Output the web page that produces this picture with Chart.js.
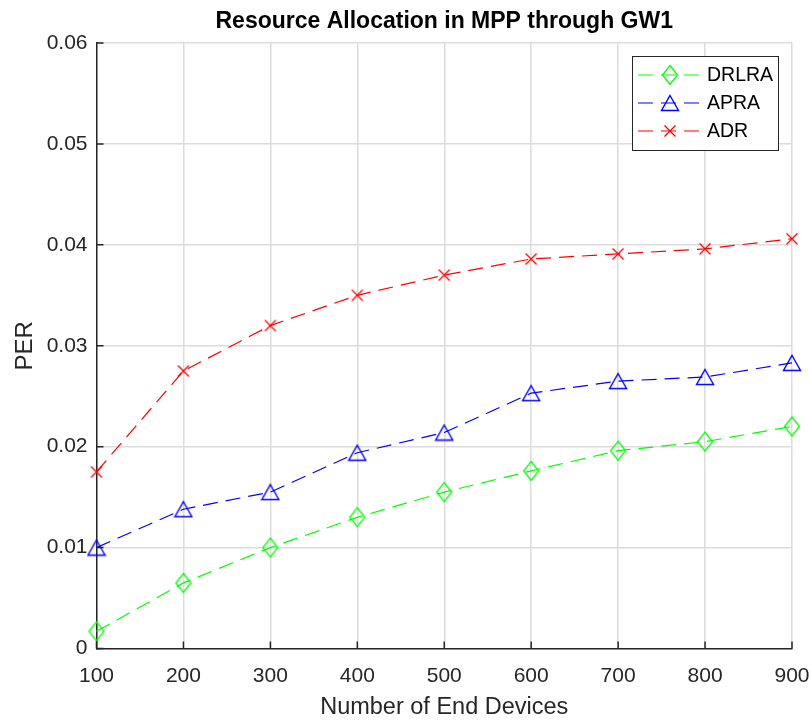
<!DOCTYPE html>
<html><head><meta charset="utf-8">
<script src="https://cdn.jsdelivr.net/npm/chart.js@4"></script>
<style>html,body{margin:0;padding:0;background:#fff}canvas{display:block}</style>
</head><body>
<canvas id="c" width="810" height="725"></canvas>
<script>
const devices = [100,200,300,400,500,600,700,800,900];
const drlra = [0.0017,0.0065,0.0100,0.0130,0.0155,0.0176,0.0196,0.0205,0.0220];
const apra  = [0.0100,0.0138,0.0155,0.0194,0.0214,0.0253,0.0265,0.0269,0.0283];
const adr   = [0.0175,0.0275,0.0320,0.0350,0.0370,0.0386,0.0391,0.0396,0.0406];
const yTickLabels = ['0','0.01','0.02','0.03','0.04','0.05','0.06'];
const seriesNames = ['DRLRA','APRA','ADR'];
const titleText = 'Resource Allocation in MPP through GW1';
const xTitle = 'Number of End Devices';
const yTitle = 'PER';

const FONT = "'Liberation Sans', Arial, Helvetica, sans-serif";
const TXT = '#262626';

function makeMarker(kind, color) {
  const c = document.createElement('canvas');
  const g = c.getContext('2d');
  if (kind === 'diamond') {
    c.width = 18; c.height = 22;
    g.strokeStyle = color; g.lineWidth = 1.3;
    g.beginPath(); g.moveTo(9,1.5); g.lineTo(16.5,11); g.lineTo(9,20.5); g.lineTo(1.5,11); g.closePath(); g.stroke();
  } else if (kind === 'triangle') {
    c.width = 20; c.height = 18;
    g.strokeStyle = color; g.lineWidth = 1.4;
    g.beginPath(); g.moveTo(10,1.5); g.lineTo(18.5,16.5); g.lineTo(1.5,16.5); g.closePath(); g.stroke();
  } else {
    c.width = 14; c.height = 14;
    g.strokeStyle = color; g.lineWidth = 1.3;
    g.beginPath(); g.moveTo(1.5,1.5); g.lineTo(12.5,12.5); g.moveTo(12.5,1.5); g.lineTo(1.5,12.5); g.stroke();
  }
  return c;
}

const colors = ['#00ff00','#0000ff','#ff0000'];
const markers = [makeMarker('diamond',colors[0]), makeMarker('triangle',colors[1]), makeMarker('cross',colors[2])];
const series = [drlra, apra, adr];
const DASH = [15, 8];

const datasets = series.map((vals, i) => ({
  label: seriesNames[i],
  data: vals.map((v, j) => ({x: devices[j], y: v})),
  borderColor: colors[i],
  backgroundColor: colors[i],
  borderWidth: 1.2,
  borderDash: DASH,
  pointStyle: markers[i],
  pointRadius: 8,
  pointHoverRadius: 8,
  tension: 0,
  fill: false,
  clip: false
}));

const bgPlugin = {
  id: 'bg',
  beforeDraw(chart) {
    const ctx = chart.ctx;
    ctx.save(); ctx.fillStyle = '#fff'; ctx.fillRect(0,0,chart.width,chart.height); ctx.restore();
  }
};

const inwardTicks = {
  id: 'inwardTicks',
  afterDatasetsDraw(chart) {
    const ctx = chart.ctx, a = chart.chartArea;
    const xs = chart.scales.x, ys = chart.scales.y;
    ctx.save();
    ctx.strokeStyle = TXT; ctx.lineWidth = 1.5;
    ctx.beginPath();
    xs.ticks.forEach(t => { const px = xs.getPixelForValue(t.value); ctx.moveTo(px, a.bottom); ctx.lineTo(px, a.bottom - 7); });
    ys.ticks.forEach(t => { const py = ys.getPixelForValue(t.value); ctx.moveTo(a.left, py); ctx.lineTo(a.left + 7, py); });
    ctx.stroke();
    ctx.restore();
  }
};

const legendPlugin = {
  id: 'customLegend',
  afterDraw(chart) {
    const ctx = chart.ctx, a = chart.chartArea;
    const w = 146, h = 94;
    const right = a.right - 14, top = a.top + 13;
    const left = right - w;
    ctx.save();
    ctx.fillStyle = '#fff';
    ctx.fillRect(left, top, w, h);
    ctx.strokeStyle = TXT; ctx.lineWidth = 1;
    ctx.strokeRect(left + 0.5, top + 0.5, w, h);
    const rowY = [19, 47, 75];
    chart.data.datasets.forEach((ds, i) => {
      const y = top + rowY[i];
      ctx.strokeStyle = ds.borderColor; ctx.lineWidth = 1.2;
      ctx.setLineDash(DASH);
      ctx.beginPath(); ctx.moveTo(left + 6, y); ctx.lineTo(left + 70, y); ctx.stroke();
      ctx.setLineDash([]);
      const m = ds.pointStyle;
      ctx.drawImage(m, left + 38 - m.width/2, y - m.height/2);
      ctx.fillStyle = '#000';
      ctx.font = '19.5px ' + FONT;
      ctx.textBaseline = 'middle'; ctx.textAlign = 'left';
      ctx.fillText(ds.label, left + 75, y + 1);
    });
    ctx.restore();
  }
};

new Chart(document.getElementById('c'), {
  type: 'line',
  data: { datasets },
  plugins: [bgPlugin, inwardTicks, legendPlugin],
  options: {
    responsive: false,
    animation: false,
    devicePixelRatio: 1,
    layout: { padding: { left: 0, right: 18, top: 0, bottom: 0 } },
    plugins: {
      legend: { display: false },
      tooltip: { enabled: false },
      title: {
        display: true, text: titleText, fullSize: false,
        color: '#000',
        font: { family: FONT, size: 23, weight: 'bold', lineHeight: 1.2 },
        padding: { top: 8, bottom: 7.4 }
      }
    },
    scales: {
      x: {
        type: 'linear', min: 100, max: 900,
        ticks: { stepSize: 100, color: TXT, font: { family: FONT, size: 21 }, padding: 15, maxRotation: 0,
                 callback: (v) => String(v) },
        grid: { color: '#dcdcdc', lineWidth: 1.5, drawTicks: false },
        border: { display: true, color: TXT, width: 1.5 },
        title: { display: true, text: xTitle, color: TXT, font: { family: FONT, size: 23.5 }, padding: { top: 0, bottom: 3 } },
        afterFit(s) { s.height = 76.5; s.paddingLeft = 0; s.paddingRight = 0; }
      },
      y: {
        type: 'linear', min: 0, max: 0.06,
        ticks: { stepSize: 0.01, color: TXT, font: { family: FONT, size: 21 }, padding: 9,
                 callback: (v, i) => yTickLabels[i] },
        grid: { color: '#dcdcdc', lineWidth: 1.5, drawTicks: false },
        border: { display: true, color: TXT, width: 1.5 },
        title: { display: true, text: yTitle, color: TXT, font: { family: FONT, size: 24 }, padding: { top: 11, bottom: 0 } },
        afterFit(s) { s.width = 96.5; s.paddingTop = 0; s.paddingBottom = 0; }
      }
    }
  }
});
</script>
</body></html>
